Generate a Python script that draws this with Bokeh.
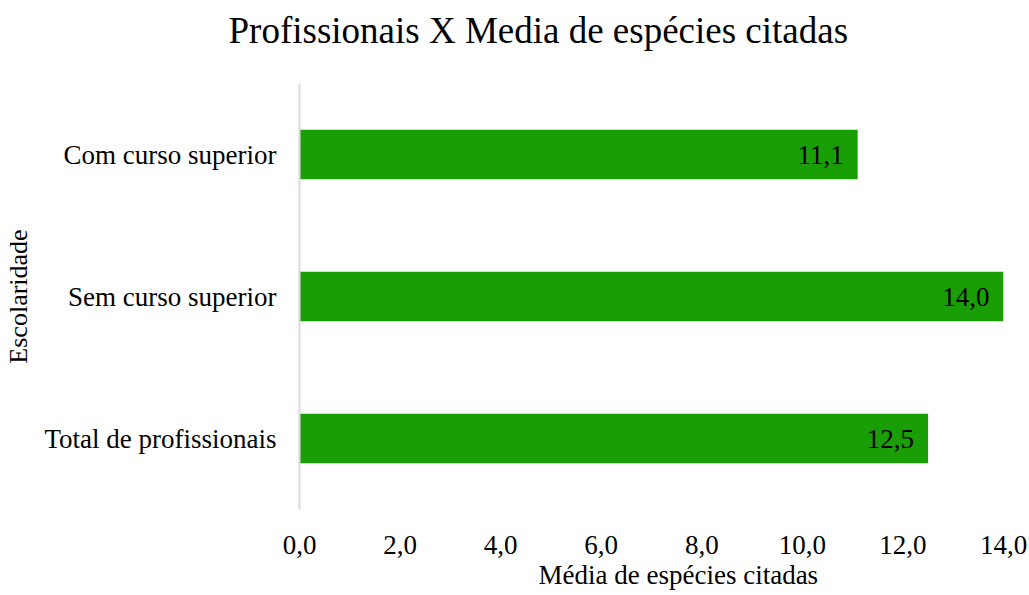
from bokeh.plotting import figure
from bokeh.models import CustomJSTickFormatter, FixedTicker, ColumnDataSource, Title
from bokeh.core.properties import value
from bokeh.embed import file_html
from bokeh.resources import INLINE

title_text = "Profissionais X Media de espécies citadas"
x_label = "Média de espécies citadas"
y_label = "Escolaridade"
categories = ["Total de profissionais", "Sem curso superior", "Com curso superior"]
values = [12.5, 14.0, 11.1]
ticks = [0, 2, 4, 6, 8, 10, 12, 14]

labels = [f"{v:.1f}".replace(".", ",") for v in values]
src = ColumnDataSource(dict(cat=categories, val=values, lab=labels))

FONT = "Liberation Serif"

p = figure(width=1029, height=595, y_range=categories, x_range=(0, 14),
           output_backend="svg", toolbar_location=None,
           min_border_left=299, min_border_right=26, min_border_top=83, min_border_bottom=86)

p.hbar(y="cat", right="val", left=0, height=0.35, source=src, color="#1A9E06", line_color=None)
p.text(x="val", y="cat", text="lab", source=src, x_offset=-14,
       text_align="right", text_baseline="middle", text_font=value(FONT),
       text_font_size="27px", text_color="black")

# spacer between frame and title
spacer = Title(text=" ", text_font=FONT, text_font_size="20px", standoff=9)
p.add_layout(spacer, "above")
ttl = Title(text=title_text, text_font=FONT, text_font_size="37px", text_font_style="normal",
            text_color="black", align="left", offset=-71, standoff=0)
p.add_layout(ttl, "above")

p.xgrid.visible = False
p.ygrid.visible = False
p.outline_line_color = None

xa = p.xaxis[0]
xa.ticker = FixedTicker(ticks=ticks)
xa.formatter = CustomJSTickFormatter(code="return tick.toFixed(1).replace('.', ',');")
xa.axis_line_color = None
xa.major_tick_line_color = None
xa.minor_tick_line_color = None
xa.major_label_text_font = FONT
xa.major_label_text_font_size = "27px"
xa.major_label_text_color = "black"
xa.major_label_standoff = 20

xttl = Title(text=x_label, text_font=FONT, text_font_size="27px", text_font_style="normal",
             text_color="black", align="left", offset=239, standoff=6, vertical_align="top")
p.add_layout(xttl, "below")

ya = p.yaxis[0]
ya.axis_line_color = "#D9D9D9"
ya.axis_line_width = 2
ya.major_tick_line_color = None
ya.minor_tick_line_color = None
ya.major_label_text_font = FONT
ya.major_label_text_font_size = "27px"
ya.major_label_text_color = "black"
ya.major_label_standoff = 17
ya.axis_label = y_label
ya.axis_label_text_font = FONT
ya.axis_label_text_font_size = "26px"
ya.axis_label_text_font_style = "normal"
ya.axis_label_text_color = "black"
ya.axis_label_standoff = 8

open("out.html", "w").write(file_html(p, INLINE))
